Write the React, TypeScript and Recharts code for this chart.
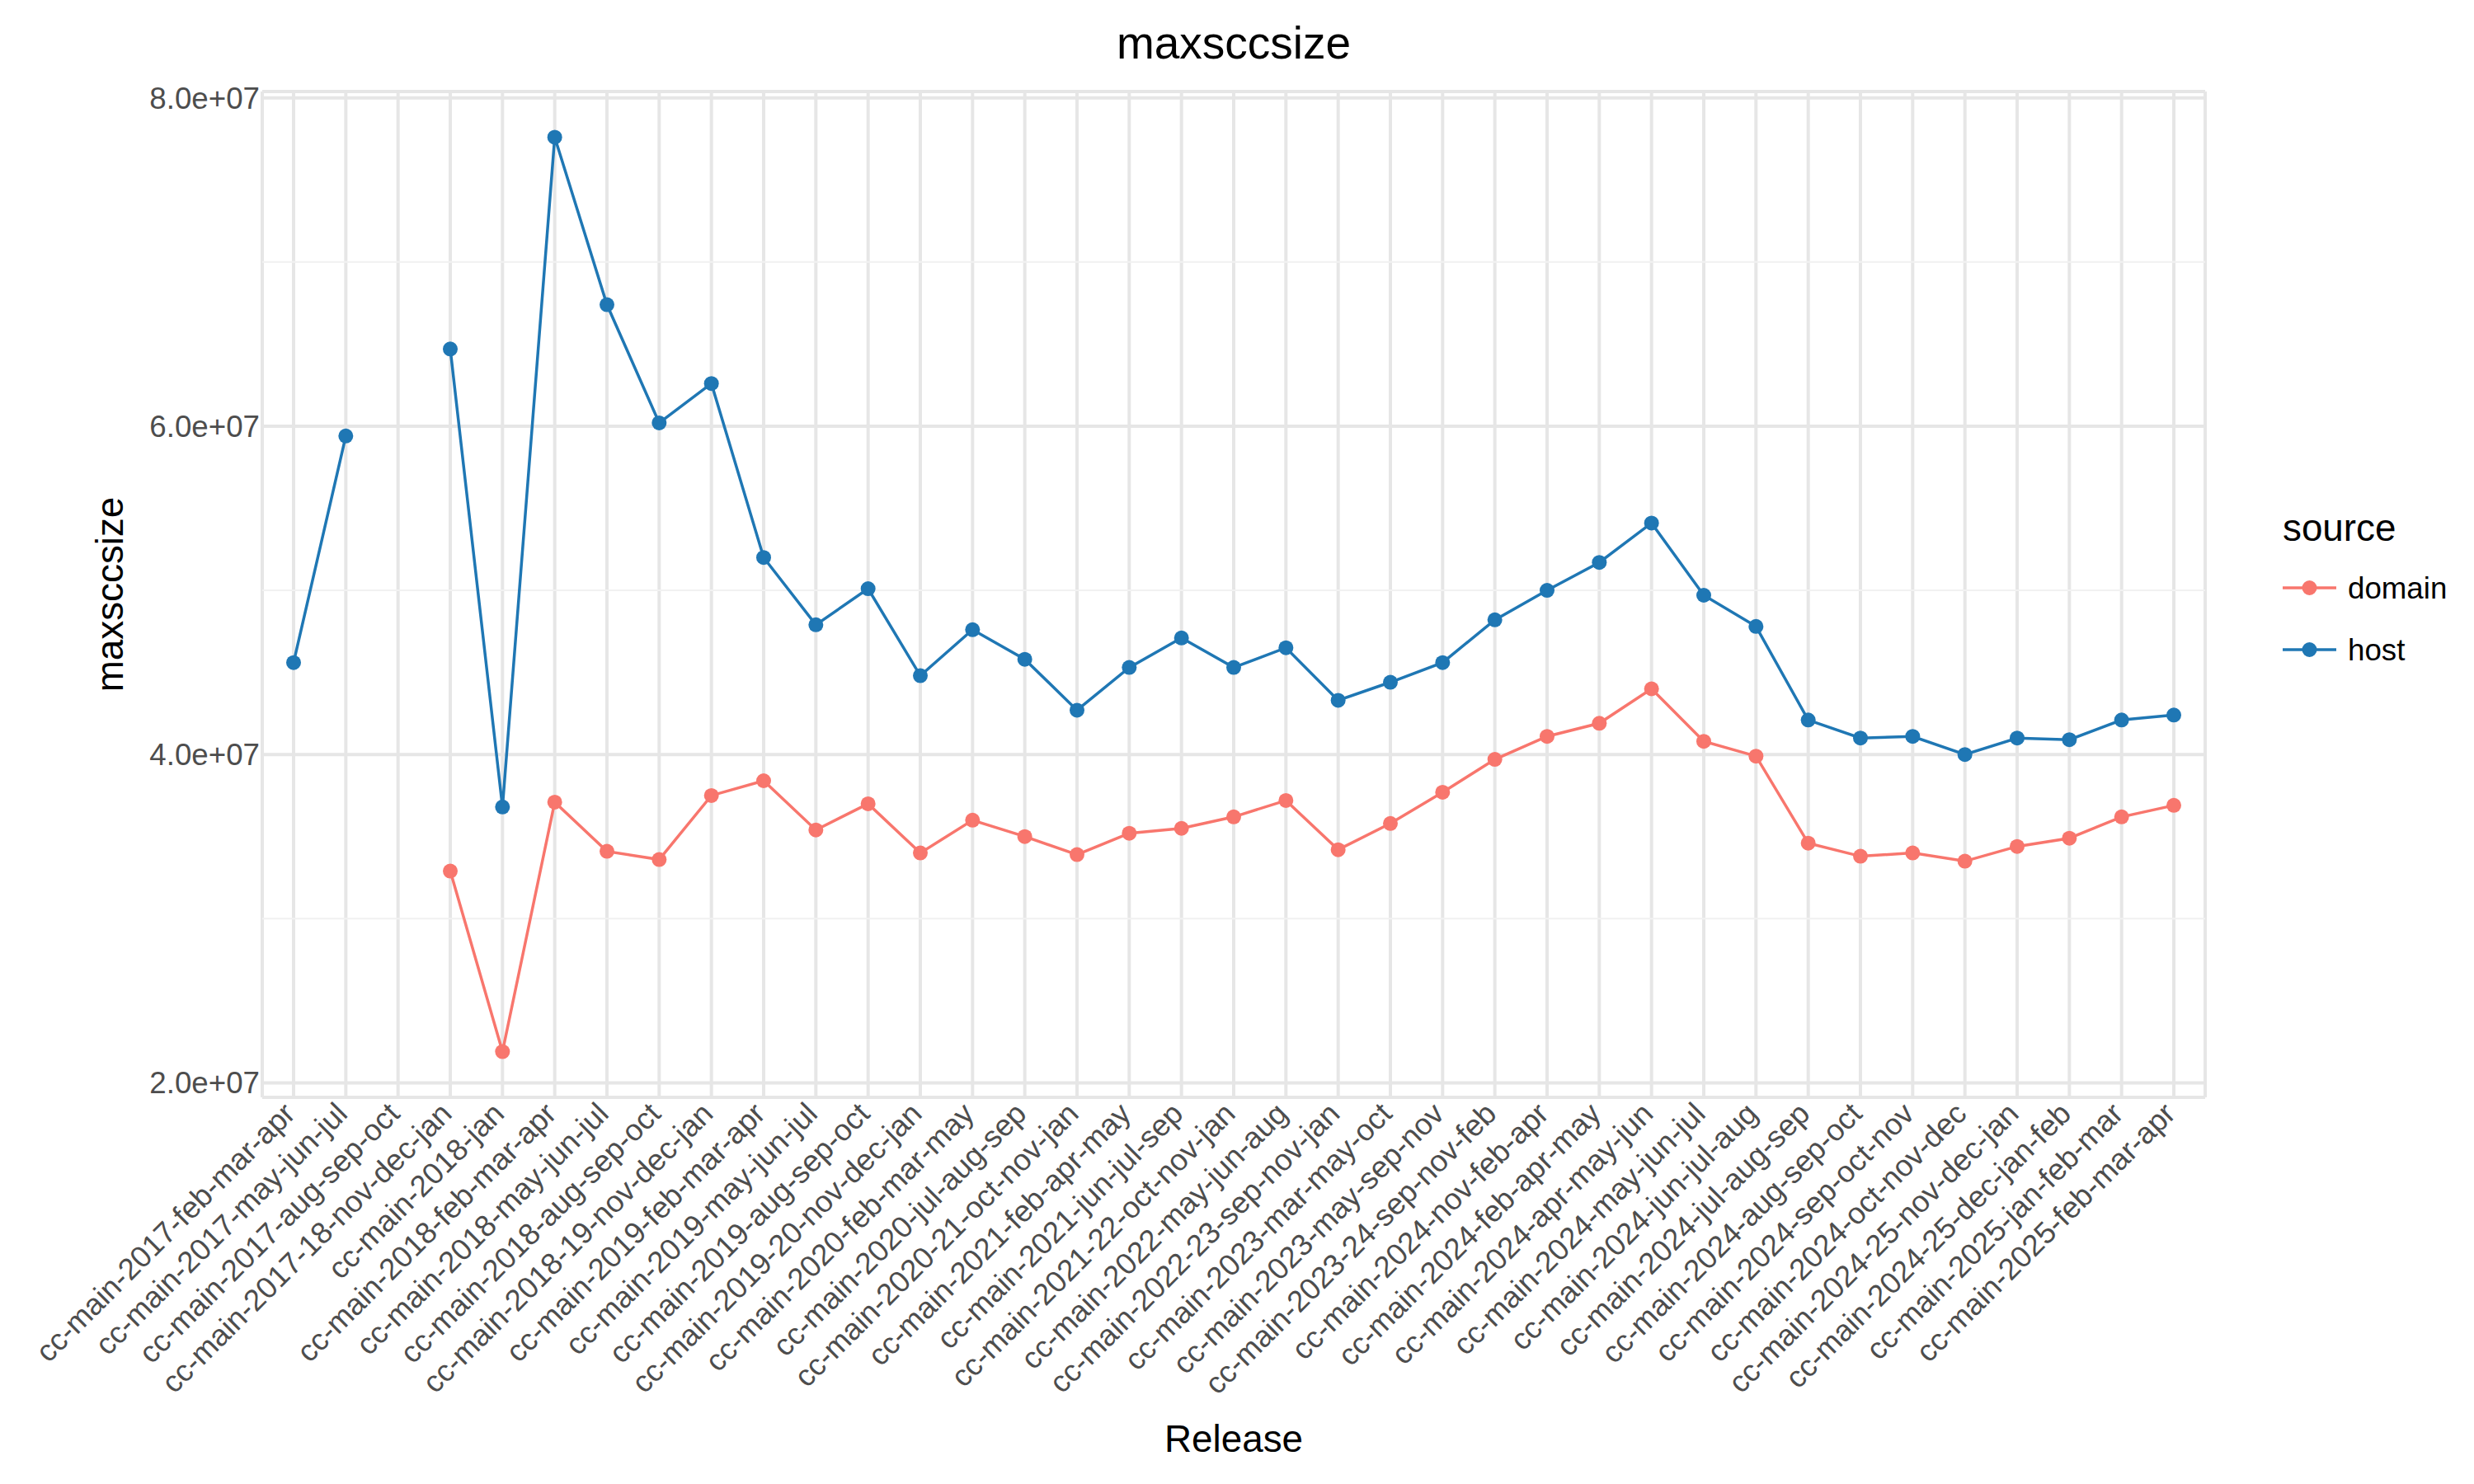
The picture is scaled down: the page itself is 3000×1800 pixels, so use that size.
import React from 'react';
import { LineChart, Line, XAxis, YAxis, CartesianGrid, ReferenceLine } from 'recharts';

const categories = [
  'cc-main-2017-feb-mar-apr',
  'cc-main-2017-may-jun-jul',
  'cc-main-2017-aug-sep-oct',
  'cc-main-2017-18-nov-dec-jan',
  'cc-main-2018-jan',
  'cc-main-2018-feb-mar-apr',
  'cc-main-2018-may-jun-jul',
  'cc-main-2018-aug-sep-oct',
  'cc-main-2018-19-nov-dec-jan',
  'cc-main-2019-feb-mar-apr',
  'cc-main-2019-may-jun-jul',
  'cc-main-2019-aug-sep-oct',
  'cc-main-2019-20-nov-dec-jan',
  'cc-main-2020-feb-mar-may',
  'cc-main-2020-jul-aug-sep',
  'cc-main-2020-21-oct-nov-jan',
  'cc-main-2021-feb-apr-may',
  'cc-main-2021-jun-jul-sep',
  'cc-main-2021-22-oct-nov-jan',
  'cc-main-2022-may-jun-aug',
  'cc-main-2022-23-sep-nov-jan',
  'cc-main-2023-mar-may-oct',
  'cc-main-2023-may-sep-nov',
  'cc-main-2023-24-sep-nov-feb',
  'cc-main-2024-nov-feb-apr',
  'cc-main-2024-feb-apr-may',
  'cc-main-2024-apr-may-jun',
  'cc-main-2024-may-jun-jul',
  'cc-main-2024-jun-jul-aug',
  'cc-main-2024-jul-aug-sep',
  'cc-main-2024-aug-sep-oct',
  'cc-main-2024-sep-oct-nov',
  'cc-main-2024-oct-nov-dec',
  'cc-main-2024-25-nov-dec-jan',
  'cc-main-2024-25-dec-jan-feb',
  'cc-main-2025-jan-feb-mar',
  'cc-main-2025-feb-mar-apr',
];

const domainValues: (number | null)[] = [
  null, null, null, 32.9e6, 21.9e6, 37.1e6, 34.1e6, 33.6e6, 37.5e6, 38.4e6,
  35.4e6, 37.0e6, 34.0e6, 36.0e6, 35.0e6, 33.9e6, 35.2e6, 35.5e6, 36.2e6, 37.2e6,
  34.2e6, 35.8e6, 37.7e6, 39.7e6, 41.1e6, 41.9e6, 44.0e6, 40.8e6, 39.9e6, 34.6e6,
  33.8e6, 34.0e6, 33.5e6, 34.4e6, 34.9e6, 36.2e6, 36.9e6,
];

const hostValues: (number | null)[] = [
  45.6e6, 59.4e6, null, 64.7e6, 36.8e6, 77.6e6, 67.4e6, 60.2e6, 62.6e6, 52.0e6,
  47.9e6, 50.1e6, 44.8e6, 47.6e6, 45.8e6, 42.7e6, 45.3e6, 47.1e6, 45.3e6, 46.5e6,
  43.3e6, 44.4e6, 45.6e6, 48.2e6, 50.0e6, 51.7e6, 54.1e6, 49.7e6, 47.8e6, 42.1e6,
  41.0e6, 41.1e6, 40.0e6, 41.0e6, 40.9e6, 42.1e6, 42.4e6,
];

const yTicks = [2e7, 4e7, 6e7, 8e7];
const yMinorTicks = [3e7, 5e7, 7e7];
const seriesNames = ['domain', 'host'];
const seriesColors = ['#F8766D', '#1F77B4'];

const data = categories.map((c, i) => ({
  release: c,
  domain: domainValues[i],
  host: hostValues[i],
}));

const W = 3000;
const H = 1800;
const PANEL = { left: 318, right: 2674, top: 111, bottom: 1331 };
const FONT = '"Liberation Sans", Arial, Helvetica, sans-serif';
const GRID = '#E6E6E6';
const TICK_COLOR = '#4D4D4D';

function XTick(props: any) {
  const { x, payload } = props;
  return (
    <g transform={`translate(${x + 4},${PANEL.bottom + 22})`}>
      <text
        textAnchor="end"
        transform="rotate(-45)"
        fontSize={36.7}
        fill={TICK_COLOR}
        fontFamily={FONT}
      >
        {payload.value}
      </text>
    </g>
  );
}

function YTick(props: any) {
  const { y, payload } = props;
  return (
    <text
      x={PANEL.left - 3}
      y={y}
      dy="0.355em"
      textAnchor="end"
      fontSize={36.7}
      fill={TICK_COLOR}
      fontFamily={FONT}
    >
      {fmt(payload.value)}
    </text>
  );
}

const fmt = (v: number) => (v / 1e7).toFixed(1) + 'e+07';

export default function App() {
  const cx = (PANEL.left + PANEL.right) / 2;
  const cy = (PANEL.top + PANEL.bottom) / 2;
  return (
    <div style={{ position: 'absolute', left: 0, top: 0, width: W, height: H, background: '#fff' }}>
      <LineChart
        width={W}
        height={H}
        data={data}
        margin={{ top: PANEL.top, right: W - PANEL.right, bottom: 0, left: 0 }}
      >
        <CartesianGrid stroke={GRID} strokeWidth={4} />
        {yMinorTicks.map((v) => (
          <ReferenceLine key={v} y={v} stroke="#F1F1F1" strokeWidth={2} />
        ))}
        <XAxis
          dataKey="release"
          type="category"
          interval={0}
          height={H - PANEL.bottom}
          padding={{ left: 38, right: 38 }}
          tickLine={false}
          axisLine={false}
          tick={<XTick />}
        />
        <YAxis
          type="number"
          width={PANEL.left}
          domain={[19115000, 80385000]}
          allowDataOverflow
          ticks={yTicks}
          tickLine={false}
          axisLine={false}
          tick={<YTick />}
        />
        {seriesNames.map((name, i) => (
          <Line
            key={name}
            type="linear"
            dataKey={name}
            stroke={seriesColors[i]}
            strokeWidth={3.5}
            dot={{ r: 9, fill: seriesColors[i], stroke: seriesColors[i], strokeWidth: 0 }}
            activeDot={false}
            connectNulls={false}
            isAnimationActive={false}
          />
        ))}
      </LineChart>
      <svg
        width={W}
        height={H}
        style={{ position: 'absolute', left: 0, top: 0, pointerEvents: 'none' }}
        fontFamily={FONT}
      >
        <text x={cx} y={71} textAnchor="middle" fontSize={55} fill="#000">
          maxsccsize
        </text>
        <text x={cx} y={1761} textAnchor="middle" fontSize={45.8} fill="#000">
          Release
        </text>
        <text
          x={149}
          y={cy}
          textAnchor="middle"
          fontSize={45.8}
          fill="#000"
          transform={`rotate(-90, 149, ${cy})`}
        >
          maxsccsize
        </text>
        <text x={2768} y={656} fontSize={45.8} fill="#000">
          source
        </text>
        {seriesNames.map((name, i) => {
          const ky = 713 + i * 75;
          return (
            <g key={name}>
              <line x1={2768} x2={2833} y1={ky} y2={ky} stroke={seriesColors[i]} strokeWidth={3.5} />
              <circle cx={2800.5} cy={ky} r={9} fill={seriesColors[i]} />
              <text x={2847} y={ky} dy="0.35em" fontSize={36.7} fill="#000">
                {name}
              </text>
            </g>
          );
        })}
      </svg>
    </div>
  );
}
